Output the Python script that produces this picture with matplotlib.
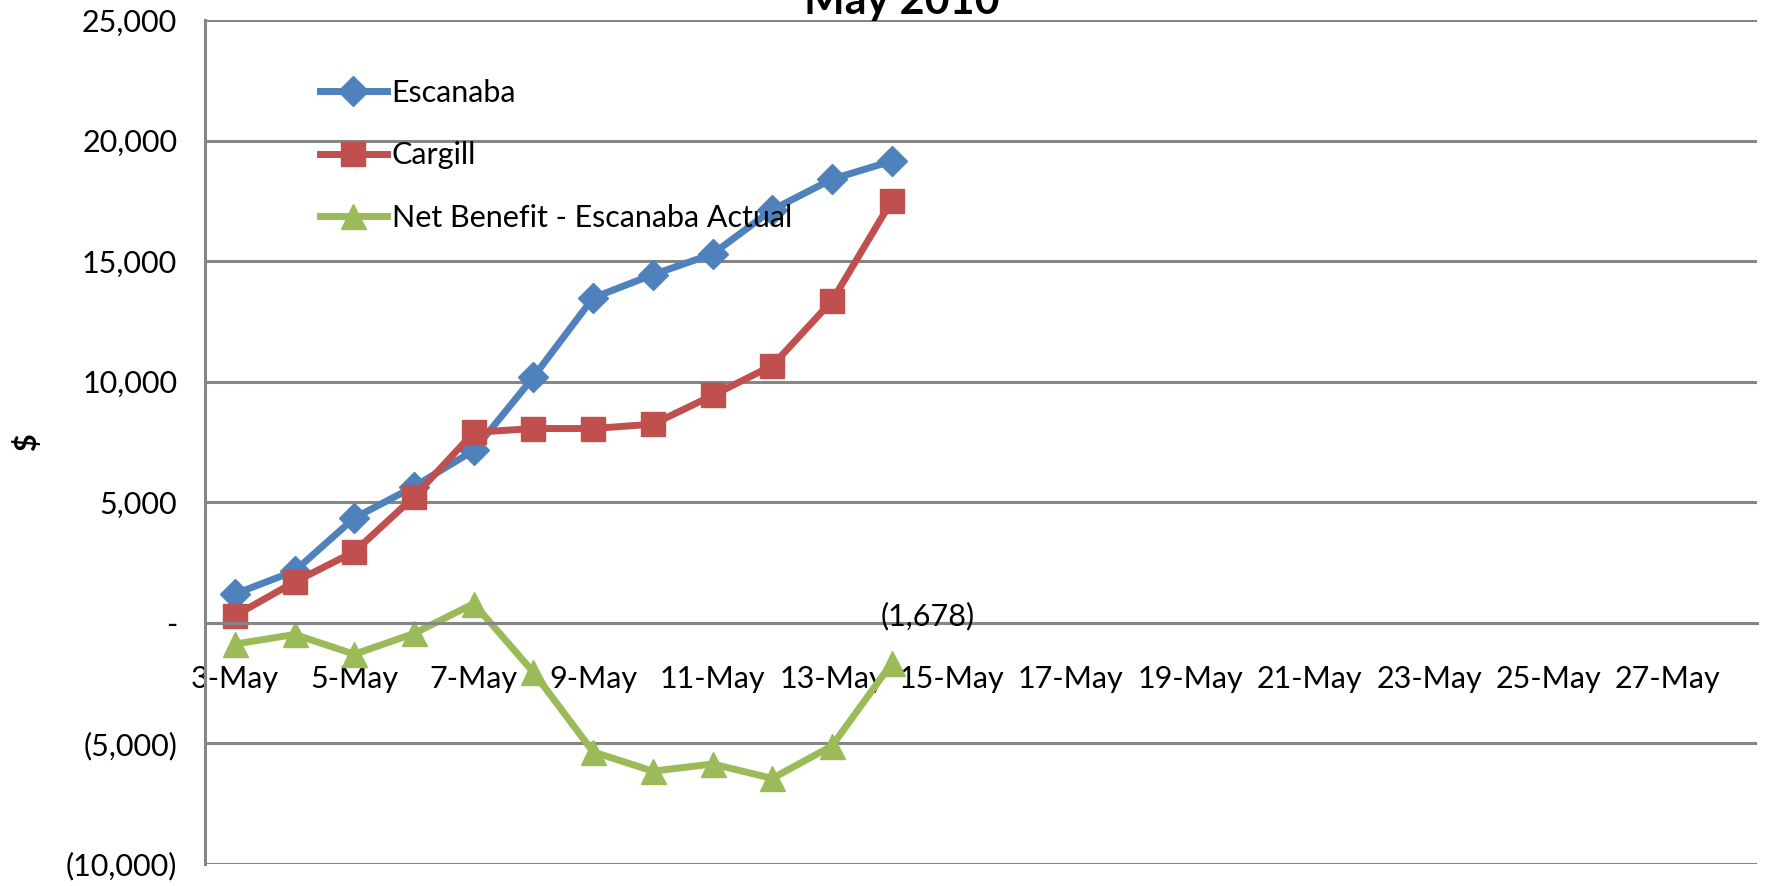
import matplotlib
matplotlib.use("Agg")
import matplotlib.pyplot as plt
from matplotlib.ticker import FixedLocator, FuncFormatter

plt.rcParams['font.family'] = ['Lato', 'DejaVu Sans']

days = list(range(3, 15))
escanaba = [1200, 2150, 4350, 5650, 7150, 10200, 13480, 14440, 15300, 17130, 18400, 19150]
cargill = [300, 1700, 2950, 5230, 7900, 8060, 8060, 8240, 9430, 10670, 13350, 17500]
net_benefit = [-880, -480, -1300, -440, 800, -2050, -5350, -6150, -5850, -6450, -5100, -1678]
tick_days = list(range(3, 28, 2))
y_ticks = [-10000, -5000, 0, 5000, 10000, 15000, 20000, 25000]

blue = '#4F81BD'
red = '#C0504D'
green = '#9BBB59'
grid = '#868686'

fig = plt.figure(figsize=(17.68, 8.86), dpi=100)
ax = fig.add_axes([0.116, 0.0248, 0.878, 0.9526])

ax.plot(days, escanaba, color=blue, lw=5, marker='D', ms=15, label='Escanaba')
ax.plot(days, cargill, color=red, lw=5, marker='s', ms=17, label='Cargill')
ax.plot(days, net_benefit, color=green, lw=5, marker='^', ms=18,
        label='Net Benefit - Escanaba Actual')

ax.annotate('(1,678)', (days[-1], net_benefit[-1]), xytext=(26, 34),
            textcoords='offset points', ha='center', va='center', fontsize=22)

ax.set_xlim(2.5, 28.5)
ax.set_ylim(-10000, 25000)
ax.yaxis.set_major_locator(FixedLocator(y_ticks))


def money(v, pos):
    if v == 0:
        return '-'
    if v < 0:
        return '({:,.0f})'.format(-v)
    return '{:,.0f}'.format(v)


ax.yaxis.set_major_formatter(FuncFormatter(money))
ax.set_xticks(tick_days)
ax.set_xticklabels(['%d-May' % d for d in tick_days])

ax.grid(axis='y', color=grid, lw=2.2)
ax.set_axisbelow(True)
for s in ['top', 'right']:
    ax.spines[s].set_visible(False)
ax.spines['bottom'].set_position(('data', 0))
ax.spines['bottom'].set_color(grid)
ax.spines['bottom'].set_linewidth(2.2)
ax.spines['left'].set_color(grid)
ax.spines['left'].set_linewidth(2.2)
ax.tick_params(axis='x', length=0, pad=30, labelsize=22)
ax.tick_params(axis='y', length=0, pad=20, labelsize=22)

ax.set_ylabel('$', fontsize=22, fontweight='bold', labelpad=18)

# title sits mostly above the canvas, like the original export
fig.text(0.51, 0.984, 'May 2010', ha='center', va='baseline',
         fontsize=31, fontweight='bold')

ax.legend(loc='upper left', bbox_to_anchor=(0.064, 0.948), frameon=False,
          fontsize=22, handlelength=2.2, handletextpad=0.15, labelspacing=1.12,
          borderpad=0)

fig.savefig('out.png', dpi=100)
